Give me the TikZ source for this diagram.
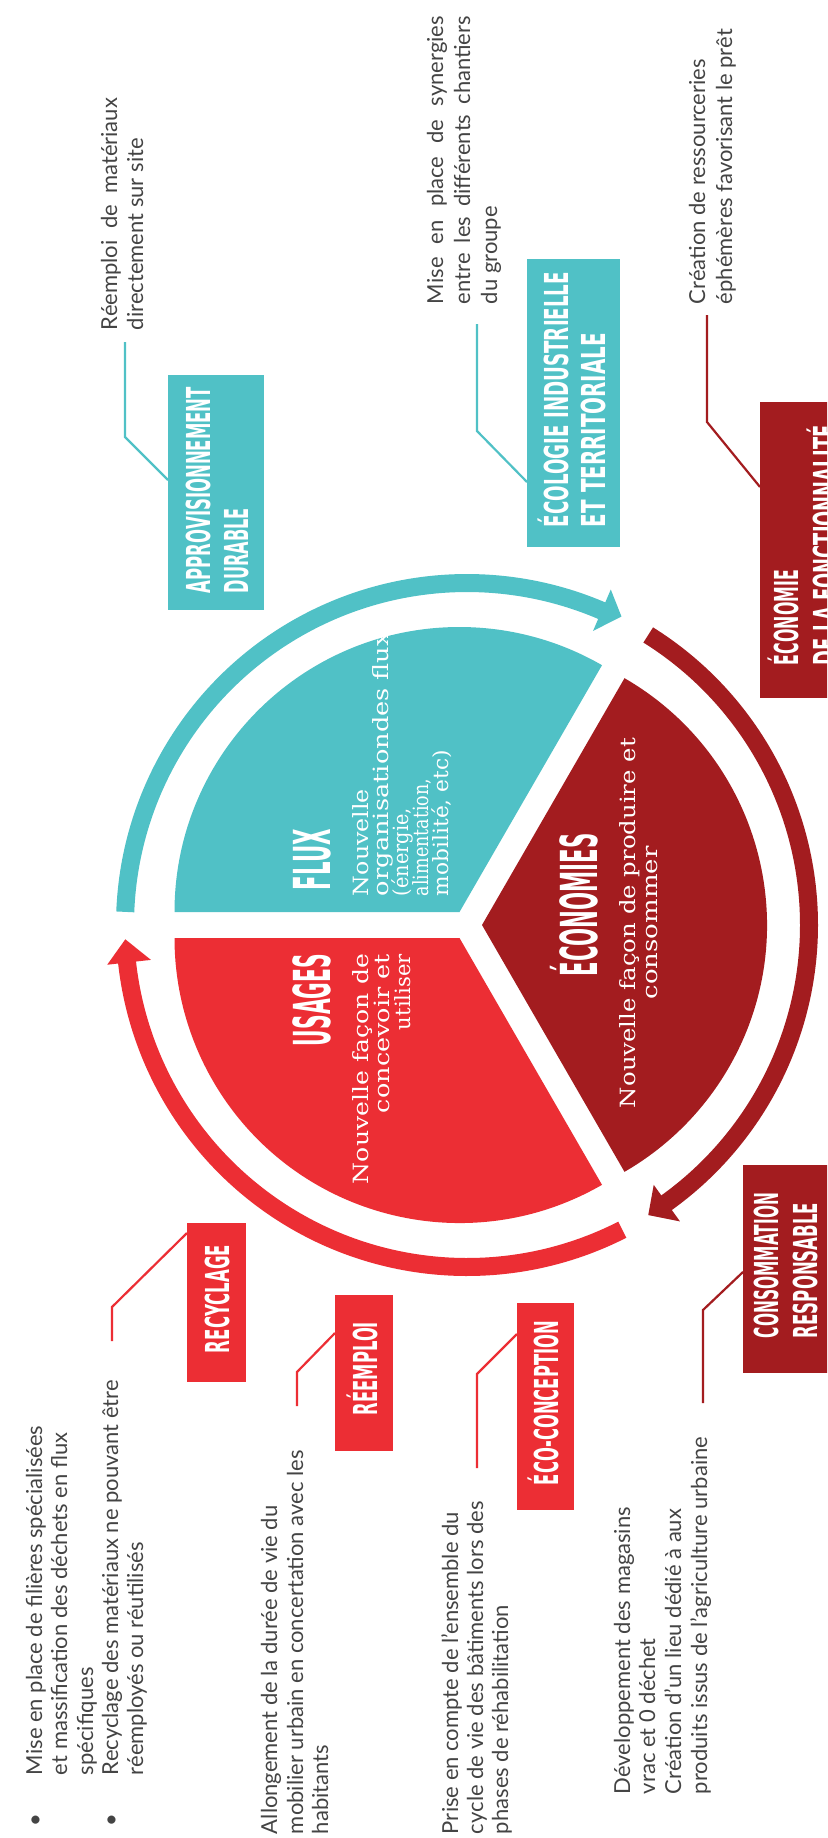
\documentclass[tikz,border=0pt]{standalone}
\usepackage{fontspec}
\usepackage{graphicx}
\setmainfont{Lato}
\newfontfamily\condf{DejaVu Sans}
\newfontfamily\slabf{DejaVu Serif}
\definecolor{tealc}{RGB}{80,193,198}
\definecolor{redc}{RGB}{236,46,52}
\definecolor{dredc}{RGB}{163,28,31}
\definecolor{txtc}{RGB}{68,68,68}
\newcommand{\fw}[2]{\resizebox{#1pt}{\height}{#2}}
\newcommand{\jw}[2]{\makebox[#1pt][s]{#2}}
\tikzset{
 lab/.style={rotate=90, anchor=base west, inner sep=0pt, outer sep=0pt, text=white, font=\condf\bfseries\fontsize{33}{33}\selectfont},
 ttl/.style={rotate=90, inner sep=0pt, outer sep=0pt, text=white, font=\condf\bfseries\fontsize{51}{51}\selectfont},
 pietxt/.style={rotate=90, inner sep=0pt, outer sep=0pt, text=white, font=\slabf\fontsize{21}{21}\selectfont},
 body/.style={rotate=90, anchor=base west, inner sep=0pt, outer sep=0pt, text=txtc, font=\fontsize{22}{26}\selectfont},
 box/.style={inner sep=0pt, outer sep=0pt, draw=none},
 cl/.style={line width=2.2pt},
 ring/.style={line width=18pt},
}
\begin{document}
\begin{tikzpicture}[x=1pt,y=-1pt]
\useasboundingbox (0,0) rectangle (827,1838);
\clip (0,0) rectangle (827,1838);
\fill[white] (0,0) rectangle (827,1838);
\coordinate (C) at (467,925);

% pie sectors
\fill[tealc] ([shift={(240:15)}]C) -- ++(180:285) arc[start angle=180, end angle=300, radius=285] -- cycle;
\fill[redc] ([shift={(120:15)}]C) -- ++(60:285) arc[start angle=60, end angle=180, radius=285] -- cycle;
\fill[dredc] ([shift={(0:15)}]C) -- ++(-60:285) arc[start angle=-60, end angle=60, radius=285] -- cycle;

% ring arrows
\draw[ring, tealc] ([shift={(182.2:342)}]C) arc[start angle=182.2, end angle=293.4, radius=342];
\fill[tealc] ([shift={(293.2:320)}]C) -- ([shift={(293.2:365)}]C) -- ([shift={(296.6:345)}]C) -- cycle;
\draw[ring, redc] ([shift={(63:342)}]C) arc[start angle=63, end angle=173.9, radius=342];
\fill[redc] ([shift={(173.7:318)}]C) -- ([shift={(173.7:362)}]C) -- ([shift={(177.6:342)}]C) -- cycle;
\draw[ring, dredc] ([shift={(302:342)}]C) arc[start angle=302, end angle=414.5, radius=342];
\fill[dredc] ([shift={(54.3:320)}]C) -- ([shift={(54.3:365)}]C) -- ([shift={(58:342)}]C) -- cycle;

% pie titles and texts
\node[ttl, anchor=base east] (tUsa) at (330,954) {\fw{92}{USAGES}};
\node[pietxt, anchor=base east] (u1) at (368,954) {\fw{230}{Nouvelle façon de}};
\node[pietxt, anchor=base east] (u2) at (389,954) {\fw{159}{concevoir et}};
\node[pietxt, anchor=base east] (u3) at (410,954) {\fw{76}{utiliser}};

\node[ttl, anchor=base west] (tFlu) at (330,890) {\fw{61}{FLUX}};
\node[pietxt, anchor=base west] (f1) at (368,896) {\fw{107}{Nouvelle}};
\node[pietxt, anchor=base west] (f2) at (388,896) {\fw{264}{organisationdes flux}};
\node[pietxt, anchor=base west] (f3) at (408,896) {\fw{88}{(énergie,}};
\node[pietxt, anchor=base west] (f4) at (428,896) {\fw{117}{alimentation,}};
\node[pietxt, anchor=base west] (f5) at (448,896) {\fw{146}{mobilité, etc)}};

\node[ttl, anchor=base] (tEcn) at (597,905) {\fw{143}{ÉCONOMIES}};
\node[pietxt, anchor=base] (e1) at (635,923) {\fw{370}{Nouvelle façon de produire et}};
\node[pietxt, anchor=base] (e2) at (657,923) {\fw{153}{consommer}};

% label boxes
\node[box, fill=tealc, minimum width=96, minimum height=235] (bApp) at (216,492.5) {};
\node[lab] (lApp1) at (210,593) {\fw{206}{APPROVISIONNEMENT}};
\node[lab] (lApp2) at (248,593) {\fw{85}{DURABLE}};

\node[box, fill=tealc, minimum width=93, minimum height=288] (bEco) at (573.5,403) {};
\node[lab] (lEco1) at (568,527) {\fw{255}{ÉCOLOGIE INDUSTRIELLE}};
\node[lab] (lEco2) at (605,527) {\fw{194}{ET TERRITORIALE}};

\node[box, fill=dredc, minimum width=120, minimum height=296] (bFon) at (820,550) {};
\node[lab] (lFon1) at (798,665) {\fw{95}{ÉCONOMIE}};
\node[lab] (lFon2) at (837,665) {\fw{240}{DE LA FONCTIONNALITÉ}};

\node[box, fill=redc, minimum width=59, minimum height=159] (bRec) at (216.5,1302.5) {};
\node[lab] (lRec) at (229,1353) {\fw{108}{RECYCLAGE}};

\node[box, fill=redc, minimum width=58, minimum height=156] (bRee) at (364,1373) {};
\node[lab] (lRee) at (377,1415) {\fw{93}{RÉEMPLOI}};

\node[box, fill=redc, minimum width=57, minimum height=207] (bEcc) at (545.5,1406.5) {};
\node[lab] (lEcc) at (558,1485) {\fw{164}{ÉCO-CONCEPTION}};

\node[box, fill=dredc, minimum width=87, minimum height=208] (bCon) at (786.5,1269) {};
\node[lab] (lCon1) at (778,1338) {\fw{145}{CONSOMMATION}};
\node[lab] (lCon2) at (817,1338) {\fw{135}{RESPONSABLE}};

% body texts
\node[body] (a1) at (117,330) {\jw{232}{Réemploi de matériaux}};
\node[body] (a2) at (143,330) {directement sur site};

\node[body] (s1) at (443,304) {\jw{288}{Mise en place de synergies}};
\node[body] (s2) at (470,304) {\jw{288}{entre les différents chantiers}};
\node[body] (s3) at (497,304) {du groupe};

\node[body] (c1) at (705,304) {Création de ressourceries};
\node[body] (c2) at (732,304) {éphémères favorisant le prêt};

\node[body, anchor=base] (p1) at (42,1820) {•};
\node[body, anchor=base] (p2) at (118,1820) {•};
\node[body] (r1) at (42,1775) {Mise en place de filières spécialisées};
\node[body] (r2) at (67,1775) {et massification des déchets en flux};
\node[body] (r3) at (93,1775) {spécifiques};
\node[body] (r4) at (118,1775) {Recyclage des matériaux ne pouvant être};
\node[body] (r5) at (143,1775) {réemployés ou réutilisés};

\node[body] (m1) at (277,1834) {Allongement de la durée de vie du};
\node[body] (m2) at (303,1834) {mobilier urbain en concertation avec les};
\node[body] (m3) at (328,1834) {habitants};

\node[body] (k1) at (458,1834) {Prise en compte de l’ensemble du};
\node[body] (k2) at (483,1834) {cycle de vie des bâtiments lors des};
\node[body] (k3) at (508,1834) {phases de réhabilitation};

\node[body] (g1) at (630,1794) {Développement des magasins};
\node[body] (g2) at (655,1794) {vrac et 0 déchet};
\node[body] (g3) at (681,1794) {Création d’un lieu dédié à aux};
\node[body] (g4) at (707,1794) {produits issus de l’agriculture urbaine};

% connectors
\coordinate (aS) at (125,342); \coordinate (aB) at (125,437); \coordinate (aE) at (168,480);
\draw[cl, tealc] (aS) -- (aB) -- (aE);
\coordinate (sS) at (477,324); \coordinate (sB) at (477,431); \coordinate (sE) at (527,482);
\draw[cl, tealc] (sS) -- (sB) -- (sE);
\coordinate (cS) at (707,315); \coordinate (cB) at (707,422); \coordinate (cE) at (760,487);
\draw[cl, dredc] (cS) -- (cB) -- (cE);
\coordinate (rS) at (112,1341); \coordinate (rB) at (112,1307); \coordinate (rE) at (187,1233);
\draw[cl, redc] (rS) -- (rB) -- (rE);
\coordinate (mS) at (297,1406); \coordinate (mB) at (297,1372); \coordinate (mE) at (335,1333);
\draw[cl, redc] (mS) -- (mB) -- (mE);
\coordinate (kS) at (477,1468); \coordinate (kB) at (477,1374); \coordinate (kE) at (517,1334);
\draw[cl, redc] (kS) -- (kB) -- (kE);
\coordinate (gS) at (703,1403); \coordinate (gB) at (703,1310); \coordinate (gE) at (743,1272);
\draw[cl, dredc] (gS) -- (gB) -- (gE);
\end{tikzpicture}
\end{document}
